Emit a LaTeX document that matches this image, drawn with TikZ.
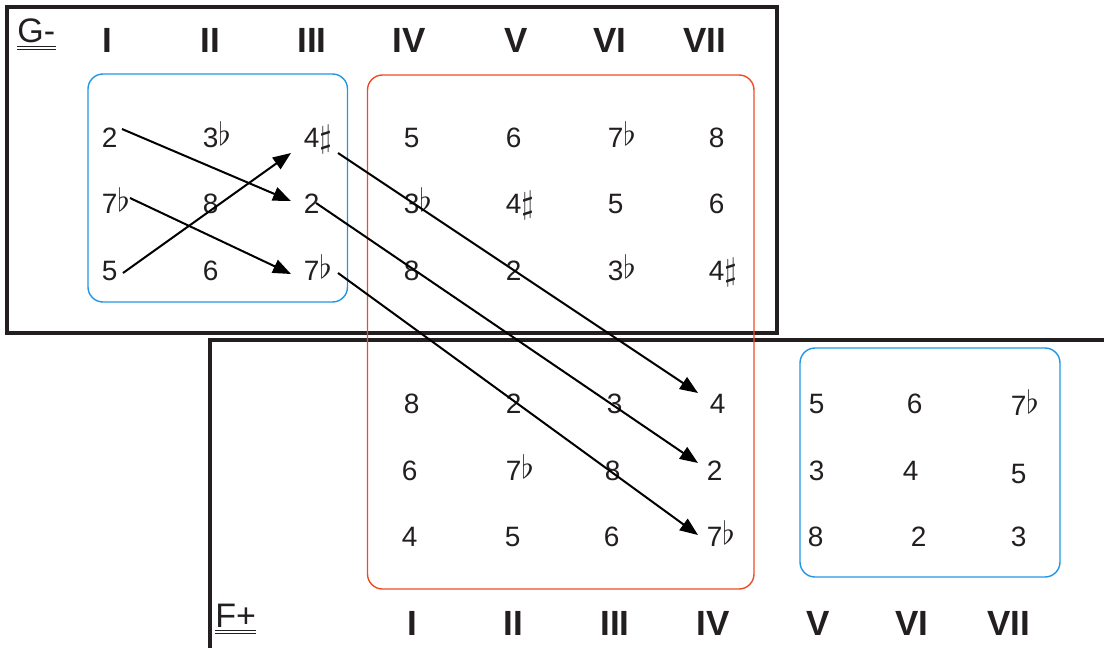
\documentclass[tikz,border=0pt]{standalone}
\usepackage{graphicx}
\usepackage{fontspec}
\setmainfont{Liberation Sans}
\usetikzlibrary{arrows.meta,calc}
\definecolor{ink}{HTML}{231F20}
\definecolor{orng}{HTML}{EF4B23}
\definecolor{blu}{HTML}{2196E3}
\newcommand{\myflat}{\raisebox{0.8pt}{\scalebox{1.6}{\fontsize{10}{12}\selectfont$\flat$}}}
\newcommand{\mysharp}{\scalebox{1.6}{\fontsize{10}{12}\selectfont$\sharp$}}
\begin{document}
\begin{tikzpicture}[x=0.5pt,y=-0.5pt,
  num/.style={font=\fontsize{14}{16}\selectfont, text=ink, inner sep=0pt, anchor=base west},
  rom/.style={font=\bfseries\fontsize{17.5}{20}\selectfont, text=ink, inner sep=0pt, anchor=base},
  keytext/.style={font=\fontsize{17}{20}\selectfont, text=ink, inner sep=0pt, anchor=base west},
  uline/.style={draw=ink, line width=0.5pt},
  arr/.style={line width=1pt, draw=black, -{Triangle[length=9pt,width=7pt]}},
  blackframe/.style={line width=2pt, draw=ink},
  rbox/.style={rounded corners=7.5pt, line width=0.7pt}]
\useasboundingbox (0,0) rectangle (1104,648);
\clip (0,0) rectangle (1104,648);
% frames
\draw[blackframe] (7,7) rectangle (777,333);
\draw[blackframe] (209.5,700) -- (209.5,339.5) -- (1120,339.5);
% coloured boxes
\draw[rbox, draw=blu] (88,74) rectangle (347.5,302);
\draw[rbox, draw=orng] (367.5,75) rectangle (754,589);
\draw[rbox, draw=blu] (800,348) rectangle (1060,577);
% keys
\node[keytext] (gkey) at (17,42.7) {G-};
\draw[uline] ($(gkey.base west)+(0,4)$) -- ($(gkey.base east)+(0,4)$);
\draw[uline] ($(gkey.base west)+(0,6.6)$) -- ($(gkey.base east)+(0,6.6)$);
\node[keytext] (fkey) at (215,627) {F+};
\draw[uline] ($(fkey.base west)+(0,3.8)$) -- ($(fkey.base east)+(0,3.8)$);
\draw[uline] ($(fkey.base west)+(0,6.4)$) -- ($(fkey.base east)+(0,6.4)$);
% top roman numerals
\node[rom] (gr1) at (107,52) {I};
\node[rom] (gr2) at (210,52) {II};
\node[rom] (gr3) at (312,52) {III};
\node[rom] (gr4) at (409,52) {IV};
\node[rom] (gr5) at (516,52) {V};
\node[rom] (gr6) at (610,52) {VI};
\node[rom] (gr7) at (705,52) {VII};
% bottom roman numerals
\node[rom] (fr1) at (412,635) {I};
\node[rom] (fr2) at (513,635) {II};
\node[rom] (fr3) at (615,635) {III};
\node[rom] (fr4) at (713,635) {IV};
\node[rom] (fr5) at (818,635) {V};
\node[rom] (fr6) at (912,635) {VI};
\node[rom] (fr7) at (1009,635) {VII};
% top grid
\node[num] (t11) at (101.5,147) {2};
\node[num] (t12) at (202.5,147) {3\myflat};
\node[num] (t13) at (303.5,147) {4\mysharp};
\node[num] (t14) at (403.5,147) {5};
\node[num] (t15) at (505.5,147) {6};
\node[num] (t16) at (607.5,147) {7\myflat};
\node[num] (t17) at (708.5,147) {8};
\node[num] (t21) at (101.5,213) {7\myflat};
\node[num] (t22) at (202.5,213) {8};
\node[num] (t23) at (303.5,213) {2};
\node[num] (t24) at (403.5,213) {3\myflat};
\node[num] (t25) at (505.5,213) {4\mysharp};
\node[num] (t26) at (607.5,213) {5};
\node[num] (t27) at (708.5,213) {6};
\node[num] (t31) at (101.5,280) {5};
\node[num] (t32) at (202.5,280) {6};
\node[num] (t33) at (303.5,280) {7\myflat};
\node[num] (t34) at (403.5,280) {8};
\node[num] (t35) at (505.5,280) {2};
\node[num] (t36) at (607.5,280) {3\myflat};
\node[num] (t37) at (708.5,280) {4\mysharp};
% bottom grid
\node[num] (b11) at (403.5,413) {8};
\node[num] (b12) at (505.5,413) {2};
\node[num] (b13) at (606.5,413) {3};
\node[num] (b14) at (709.5,413) {4};
\node[num] (b15) at (808.5,413) {5};
\node[num] (b16) at (906.5,413) {6};
\node[num] (b17) at (1010.5,415) {7\myflat};
\node[num] (b21) at (401.5,480) {6};
\node[num] (b22) at (505.5,480) {7\myflat};
\node[num] (b23) at (604.5,480) {8};
\node[num] (b24) at (706.5,480) {2};
\node[num] (b25) at (808.5,480) {3};
\node[num] (b26) at (902.5,480) {4};
\node[num] (b27) at (1010.5,483) {5};
\node[num] (b31) at (401.5,546) {4};
\node[num] (b32) at (504.5,546) {5};
\node[num] (b33) at (603.5,546) {6};
\node[num] (b34) at (706.5,546) {7\myflat};
\node[num] (b35) at (807.5,546) {8};
\node[num] (b36) at (910.5,546) {2};
\node[num] (b37) at (1010.5,546) {3};
% arrows
\draw[arr] ($(t11.base west)+(20.5,-18)$) -- ($(t23.base west)+(-12.5,-12)$);
\draw[arr] ($(t21.base west)+(28.5,-15)$) -- ($(t33.base west)+(-12.5,-6)$);
\draw[arr] ($(t31.base west)+(21.5,-7)$) -- ($(t13.base west)+(-12.5,6)$);
\draw[arr] ($(t13.base west)+(34.5,6)$) -- ($(b14.base west)+(-11.5,-20)$);
\draw[arr] ($(t23.base west)+(12.5,-10)$) -- ($(b24.base west)+(-8.5,-17)$);
\draw[arr] ($(t33.base west)+(34.5,-7)$) -- ($(b34.base west)+(-8.5,-11)$);
\end{tikzpicture}
\end{document}
